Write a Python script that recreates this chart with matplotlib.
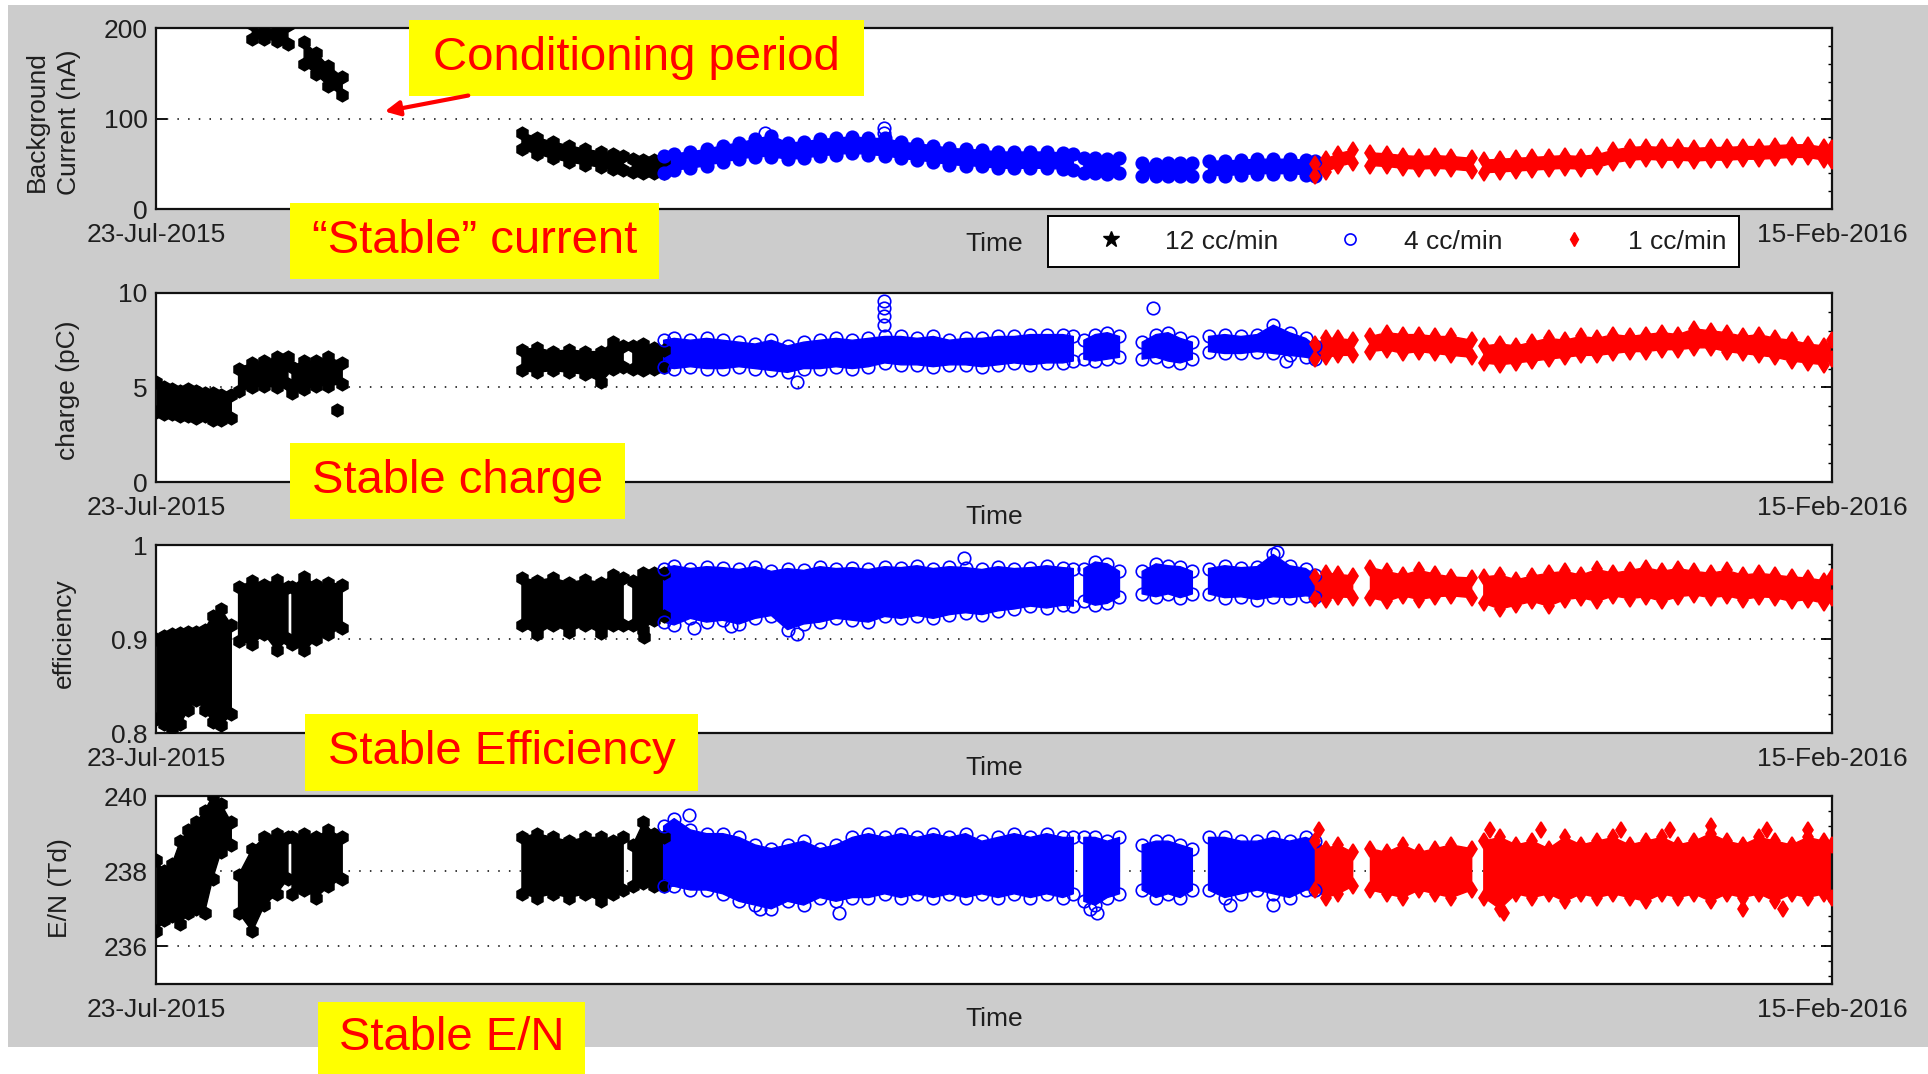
import matplotlib
matplotlib.use('Agg')
import matplotlib.pyplot as plt
import numpy as np
from matplotlib.lines import Line2D
from matplotlib.patches import Rectangle, FancyArrowPatch
from matplotlib.ticker import AutoMinorLocator

plt.rcParams['font.family'] = ['Liberation Sans', 'DejaVu Sans']
plt.rcParams['font.size'] = 19

nan = np.nan

# days since 23-Jul-2015 for each flow rate (NaN = no data between runs)
day_12 = [0, 1, 2, 3, 4, 5, 6, 7, 8, 9.3, nan,
          10.2, 11.9, 13.4, 14.9, 16.3, nan,
          16.8, 18.3, 19.8, 21.3, 23.0, nan,
          45.2, 47, 49, 51, 53, 55, 56.5, 57.7, nan,
          58.9, 60.2, 61.5, 62.8]
day_4 = [62.7, 64, 66, 68, 70, 72, 74, 76, 78, 80, 82, 84, 86, 88, 90, 92, 94,
         96, 98, 100, 102, 104, 106, 108, 110, 112, 113.3, nan,
         114.6, 116, 117.5, 119, nan,
         121.8, 123.5, 125, 126.5, 128, nan,
         130, 132, 134, 136, 138, 140, 142, 143.2]
day_1 = [143.2, 144.5, 146, 147.8, nan,
         150, 152, 154, 156, 158, 160, 162.5, nan,
         164, 166, 168, 170, 172, 174, 176, 178, 180, 182, 184, 186, 188, 190,
         192, 194, 196, 198, 200, 202, 204, 206, 207]

# background current (nA), lower / upper edge of the point cloud
cur_12_lo = [nan, nan, nan, nan, nan, nan, nan, nan, nan, nan, nan,
             nan, 188, 188, 186, 182, nan,
             nan, 160, 149, 136, 126, nan,
             66, 61, 56, 52, 49, 46, 44, 43, nan,
             41, 40, 40, 40]
cur_12_hi = [nan, nan, nan, nan, nan, nan, nan, nan, nan, nan, nan,
             nan, 205, 205, 204, 203, nan,
             nan, 185, 172, 158, 146, nan,
             84, 79, 74, 70, 66, 63, 61, 59, nan,
             55, 54, 54, 54]
cur_4_lo = [40, 43, 45, 48, 52, 55, 58, 58, 55, 56, 59, 60, 62, 60, 59, 56, 54,
            52, 49, 48, 47, 45, 45, 45, 45, 44, 43, nan,
            40, 40, 39, 40, nan,
            37, 36, 37, 37, 37, nan,
            37, 37, 38, 39, 39, 39, 38, 37]
cur_4_hi = [59, 61, 63, 66, 70, 73, 77, 81, 73, 74, 77, 78, 80, 78, 78, 74, 72,
            70, 67, 66, 65, 63, 63, 63, 63, 62, 61, nan,
            56, 56, 55, 56, nan,
            51, 50, 51, 51, 51, nan,
            53, 53, 54, 55, 55, 55, 54, 53]
cur_1_lo = [36, 41, 47, 51, nan,
            48, 47, 45, 44, 45, 44, 42, nan,
            40, 41, 42, 43, 44, 45, 44, 46, 51, 54, 55, 54, 54, 53, 54, 54, 55,
            55, 56, 57, 57, 54, 53]
cur_1_hi = [50, 55, 61, 65, nan,
            62, 61, 59, 58, 59, 58, 56, nan,
            54, 55, 56, 57, 58, 59, 58, 60, 65, 68, 69, 68, 68, 67, 68, 68, 69,
            69, 70, 71, 71, 68, 67]

# charge (pC)
chg_12_lo = [3.7, 3.6, 3.6, 3.5, 3.5, 3.4, 3.5, 3.3, 3.3, 3.4, nan,
             4.8, 5.0, 5.1, 5.0, 5.2, nan,
             4.7, 4.9, 5.1, 5.1, 5.2, nan,
             5.9, 5.8, 5.9, 5.8, 5.7, 5.3, 6.0, 6.1, nan,
             6.0, 5.9, 6.0, 6.1]
chg_12_hi = [5.3, 5.0, 4.9, 4.8, 4.9, 4.8, 4.7, 4.7, 4.6, 4.6, nan,
             6.0, 6.3, 6.4, 6.6, 6.6, nan,
             6.1, 6.4, 6.4, 6.6, 6.3, nan,
             7.0, 7.1, 6.9, 7.0, 6.9, 6.9, 7.4, 7.2, nan,
             7.2, 7.3, 7.1, 7.0]
chg_4_lo = [6.1, 6.0, 6.1, 6.0, 6.0, 6.1, 6.0, 5.9, 5.8, 6.0, 6.0, 6.1, 6.0,
            6.1, 6.3, 6.2, 6.2, 6.1, 6.2, 6.2, 6.1, 6.2, 6.3, 6.2, 6.3, 6.3, 6.4, nan,
            6.5, 6.4, 6.5, 6.6, nan,
            6.5, 6.6, 6.4, 6.3, 6.5, nan,
            6.9, 6.8, 6.8, 6.9, 6.8, 6.7, 6.6, 6.5]
chg_4_hi = [7.5, 7.6, 7.5, 7.6, 7.5, 7.4, 7.3, 7.5, 7.2, 7.4, 7.5, 7.6, 7.5,
            7.6, 7.7, 7.7, 7.6, 7.7, 7.5, 7.6, 7.6, 7.7, 7.7, 7.8, 7.8, 7.8, 7.7, nan,
            7.5, 7.8, 7.9, 7.7, nan,
            7.4, 7.8, 7.9, 7.6, 7.4, nan,
            7.7, 7.8, 7.7, 7.8, 8.3, 7.9, 7.6, 7.2]
chg_1_lo = [6.5, 6.6, 6.7, 6.7, nan,
            6.9, 7.0, 6.8, 6.9, 6.8, 6.7, 6.6, nan,
            6.3, 6.2, 6.3, 6.4, 6.5, 6.6, 6.7, 6.7, 6.8, 6.9, 6.9, 7.0, 7.0, 7.1,
            7.1, 6.9, 6.8, 6.7, 6.6, 6.4, 6.3, 6.2, 6.5]
chg_1_hi = [7.3, 7.6, 7.6, 7.5, nan,
            7.7, 7.9, 7.8, 7.8, 7.7, 7.7, 7.5, nan,
            7.2, 7.3, 7.2, 7.4, 7.6, 7.5, 7.7, 7.6, 7.8, 7.7, 7.8, 7.9, 7.8, 8.1,
            8.0, 7.9, 7.7, 7.8, 7.6, 7.5, 7.3, 7.2, 7.5]

# efficiency
eff_12_lo = [0.815, 0.81, 0.805, 0.81, 0.825, 0.835, 0.825, 0.812, 0.808, 0.82, nan,
             0.898, 0.895, 0.905, 0.888, 0.9, nan,
             0.895, 0.888, 0.9, 0.905, 0.912, nan,
             0.915, 0.905, 0.915, 0.908, 0.915, 0.906, 0.915, 0.915, nan,
             0.915, 0.91, 0.92, 0.925]
eff_12_hi = [0.9, 0.903, 0.905, 0.906, 0.908, 0.908, 0.91, 0.925, 0.932, 0.915, nan,
             0.955, 0.962, 0.958, 0.963, 0.955, nan,
             0.955, 0.966, 0.957, 0.96, 0.958, nan,
             0.965, 0.962, 0.965, 0.96, 0.963, 0.96, 0.968, 0.965, nan,
             0.962, 0.97, 0.97, 0.97]
eff_4_lo = [0.918, 0.915, 0.922, 0.918, 0.92, 0.916, 0.922, 0.925, 0.91, 0.916,
            0.918, 0.922, 0.92, 0.918, 0.924, 0.922, 0.925, 0.922, 0.926, 0.928,
            0.926, 0.93, 0.932, 0.935, 0.933, 0.936, 0.935, nan,
            0.94, 0.936, 0.938, 0.945, nan,
            0.948, 0.945, 0.948, 0.944, 0.948, nan,
            0.948, 0.944, 0.945, 0.942, 0.945, 0.944, 0.946, 0.945]
eff_4_hi = [0.975, 0.978, 0.975, 0.977, 0.976, 0.974, 0.977, 0.972, 0.975, 0.973,
            0.977, 0.975, 0.976, 0.974, 0.977, 0.976, 0.978, 0.975, 0.977, 0.976,
            0.974, 0.977, 0.975, 0.976, 0.978, 0.976, 0.975, nan,
            0.975, 0.982, 0.98, 0.972, nan,
            0.972, 0.98, 0.978, 0.977, 0.972, nan,
            0.975, 0.978, 0.976, 0.977, 0.99, 0.978, 0.975, 0.968]
eff_1_lo = [0.943, 0.942, 0.945, 0.944, nan,
            0.944, 0.94, 0.946, 0.942, 0.945, 0.946, 0.944, nan,
            0.938, 0.932, 0.936, 0.94, 0.935, 0.942, 0.944, 0.94, 0.946, 0.943,
            0.945, 0.94, 0.945, 0.947, 0.944, 0.946, 0.942, 0.945, 0.944, 0.94,
            0.942, 0.938, 0.944]
eff_1_hi = [0.966, 0.97, 0.969, 0.967, nan,
            0.976, 0.972, 0.968, 0.973, 0.969, 0.966, 0.965, nan,
            0.966, 0.968, 0.963, 0.967, 0.97, 0.972, 0.968, 0.974, 0.97, 0.973,
            0.976, 0.972, 0.975, 0.972, 0.97, 0.973, 0.968, 0.97, 0.968, 0.966,
            0.965, 0.962, 0.966]

# reduced field E/N (Td)
en_12_lo = [236.4, 236.7, 236.8, 236.6, 236.9, 237.0, 236.9, 237.8, 238.5, 238.7, nan,
            236.9, 236.4, 237.1, 237.4, 237.8, nan,
            237.4, 237.5, 237.3, 237.6, 237.8, nan,
            237.4, 237.3, 237.4, 237.3, 237.4, 237.2, 237.4, 237.5, nan,
            237.6, 237.7, 237.6, 237.6]
en_12_hi = [238.3, 238.0, 238.2, 238.8, 239.1, 239.3, 239.6, 240.0, 239.8, 239.3, nan,
            237.9, 238.6, 238.9, 239.0, 238.9, nan,
            238.9, 239.0, 238.9, 239.1, 238.9, nan,
            238.9, 239.0, 238.9, 238.8, 238.9, 238.9, 238.8, 238.9, nan,
            238.7, 239.3, 239.0, 238.9]
en_4_lo = [237.6, 237.6, 237.5, 237.5, 237.4, 237.2, 237.1, 237.0, 237.2, 237.1,
           237.3, 237.2, 237.3, 237.3, 237.4, 237.3, 237.4, 237.3, 237.4, 237.3,
           237.4, 237.3, 237.4, 237.3, 237.4, 237.3, 237.4, nan,
           237.2, 237.1, 237.3, 237.4, nan,
           237.5, 237.3, 237.4, 237.3, 237.5, nan,
           237.5, 237.3, 237.4, 237.5, 237.4, 237.3, 237.5, 237.5]
en_4_hi = [239.2, 239.4, 239.1, 239.0, 239.0, 238.9, 238.7, 238.6, 238.7, 238.8,
           238.6, 238.7, 238.9, 239.0, 238.9, 239.0, 238.9, 239.0, 238.9, 239.0,
           238.8, 238.9, 239.0, 238.9, 239.0, 238.9, 238.9, nan,
           238.9, 238.9, 238.8, 238.9, nan,
           238.7, 238.8, 238.8, 238.7, 238.6, nan,
           238.9, 238.9, 238.8, 238.8, 238.9, 238.8, 238.9, 238.8]
en_1_lo = [237.5, 237.3, 237.4, 237.6, nan,
           237.5, 237.4, 237.3, 237.5, 237.4, 237.3, 237.5, nan,
           237.3, 237.0, 237.4, 237.3, 237.4, 237.2, 237.4, 237.3, 237.4, 237.3,
           237.2, 237.4, 237.3, 237.4, 237.2, 237.4, 237.3, 237.4, 237.2, 237.4,
           237.3, 237.4, 237.3]
en_1_hi = [238.8, 238.6, 238.7, 238.5, nan,
           238.6, 238.5, 238.7, 238.5, 238.6, 238.7, 238.6, nan,
           238.8, 238.9, 238.7, 238.8, 238.6, 238.9, 238.7, 238.8, 238.9, 238.7,
           238.8, 238.9, 238.7, 238.8, 239.0, 238.8, 238.7, 238.9, 238.8, 238.7,
           238.9, 238.8, 238.7]

# isolated points away from the bands
cur_4_out_day = [75.2, 89.9, 89.9]
cur_4_out_val = [84, 84, 90]
chg_12_out_day = [22.3]
chg_12_out_val = [3.8]
chg_4_out_day = [79.2, 89.9, 89.9, 89.9, 89.9, 123.2, 139.6]
chg_4_out_val = [5.3, 9.6, 9.2, 8.8, 8.3, 9.2, 6.4]
eff_12_out_day = [60.3]
eff_12_out_val = [0.902]
eff_4_out_day = [66.5, 71, 79.2, 99.8, 138.4]
eff_4_out_val = [0.912, 0.914, 0.905, 0.986, 0.993]
en_4_out_day = [65.8, 74.6, 84.3, 115.4, 116.2, 132.6, 138.0]
en_4_out_val = [239.5, 237.0, 236.9, 237.0, 236.9, 237.1, 237.1]
en_1_out_day = [143.6, 164.8, 171, 181, 187, 192, 199, 204, 166.5, 196, 201]
en_1_out_val = [239.1, 239.1, 239.1, 239.1, 239.1, 239.2, 239.1, 239.1, 236.9, 237.0, 237.0]

date_labels = ['23-Jul-2015', '15-Feb-2016']
n_days = 207

txt = '#1e1e1e'
style_12 = dict(color='black', marker='h', ms=9, mfc='black')
style_4 = dict(color='blue', marker='o', ms=9, mfc='none')
style_4_dense = dict(color='blue', marker='o', ms=9, mfc='blue')
style_1 = dict(color='red', marker='d', ms=8, mfc='red')


def band(ax, days, lo, hi, st):
    ax.fill_between(days, lo, hi, color=st['color'], lw=1.0, zorder=2)
    for edge in (lo, hi):
        ax.plot(days, edge, ls='none', marker=st['marker'], ms=st['ms'],
                color=st['color'], mfc=st['mfc'], mew=1.2, zorder=3)


def dots(ax, days, vals, st):
    ax.plot(days, vals, ls='none', marker=st['marker'], ms=st['ms'],
            color=st['color'], mfc=st['mfc'], mew=1.2, zorder=3)


def setup(ax, ylim, ticks, ticklabels):
    ax.set_xlim(0, n_days)
    ax.set_ylim(*ylim)
    ax.set_yticks(ticks)
    ax.set_yticklabels(ticklabels, color=txt)
    ax.yaxis.set_minor_locator(AutoMinorLocator(5))
    ax.set_xticks([0, n_days])
    ax.set_xticklabels(date_labels, color=txt)
    ax.tick_params(axis='x', length=0, pad=10)
    ax.tick_params(axis='y', which='major', direction='in', length=8, width=1.3,
                   left=True, right=True, pad=6)
    ax.tick_params(axis='y', which='minor', direction='in', length=3, width=1,
                   left=False, right=True)
    ax.yaxis.grid(True, which='major', color='black', lw=1.1, ls=(0, (1, 6)))
    ax.set_axisbelow(True)
    for sp in ax.spines.values():
        sp.set_linewidth(1.6)
        sp.set_color('#111111')
    ax.annotate('Time', xy=(0.5, 0), xycoords='axes fraction', xytext=(0, -25),
                textcoords='offset points', ha='center', va='center', color=txt)


fig = plt.figure(figsize=(19.28, 10.74), dpi=100, facecolor='white')
fig.add_artist(Rectangle((8 / 1928, 1 - 1047 / 1074), 1920 / 1928, 1042 / 1074,
                         transform=fig.transFigure, facecolor='#cccccc',
                         edgecolor='none', zorder=-5))

left, width = 0.0809, 0.8693
ax1 = fig.add_axes([left, 0.8054, width, 0.1685])
ax2 = fig.add_axes([left, 0.5512, width, 0.1760])
ax3 = fig.add_axes([left, 0.3175, width, 0.1750])
ax4 = fig.add_axes([left, 0.0838, width, 0.1750])

# background current
band(ax1, day_12, cur_12_lo, cur_12_hi, style_12)
band(ax1, day_4, cur_4_lo, cur_4_hi, style_4_dense)
dots(ax1, cur_4_out_day, cur_4_out_val, style_4)
band(ax1, day_1, cur_1_lo, cur_1_hi, style_1)
setup(ax1, (0, 200), [0, 100, 200], ['0', '100', '200'])

# charge
band(ax2, day_12, chg_12_lo, chg_12_hi, style_12)
dots(ax2, chg_12_out_day, chg_12_out_val, style_12)
band(ax2, day_4, chg_4_lo, chg_4_hi, style_4)
dots(ax2, chg_4_out_day, chg_4_out_val, style_4)
band(ax2, day_1, chg_1_lo, chg_1_hi, style_1)
setup(ax2, (0, 10), [0, 5, 10], ['0', '5', '10'])

# efficiency
band(ax3, day_12, eff_12_lo, eff_12_hi, style_12)
dots(ax3, eff_12_out_day, eff_12_out_val, style_12)
band(ax3, day_4, eff_4_lo, eff_4_hi, style_4)
dots(ax3, eff_4_out_day, eff_4_out_val, style_4)
band(ax3, day_1, eff_1_lo, eff_1_hi, style_1)
setup(ax3, (0.8, 1.0), [0.8, 0.9, 1.0], ['0.8', '0.9', '1'])

# E/N
band(ax4, day_12, en_12_lo, en_12_hi, style_12)
band(ax4, day_4, en_4_lo, en_4_hi, style_4)
dots(ax4, en_4_out_day, en_4_out_val, style_4)
band(ax4, day_1, en_1_lo, en_1_hi, style_1)
dots(ax4, en_1_out_day, en_1_out_val, style_1)
setup(ax4, (235, 240), [236, 238, 240], ['236', '238', '240'])

# y labels
fig.text(0.0275, 0.8864, 'Background\nCurrent (nA)', rotation=90, ha='center',
         va='center', color=txt, linespacing=1.4)
fig.text(0.0353, 0.6369, 'charge (pC)', rotation=90, ha='center', va='center', color=txt)
fig.text(0.0332, 0.4106, 'efficiency', rotation=90, ha='center', va='center', color=txt)
fig.text(0.0311, 0.1732, 'E/N (Td)', rotation=90, ha='center', va='center', color=txt)

# legend under the top panel
handles = [Line2D([], [], ls='none', marker='*', ms=12, color='black'),
           Line2D([], [], ls='none', marker='o', ms=8, color='blue', mfc='none', mew=1.2),
           Line2D([], [], ls='none', marker='d', ms=7, color='red')]
leg = fig.legend(handles, ['12 cc/min', '4 cc/min', '1 cc/min'], ncol=3,
                 loc='center', bbox_to_anchor=(0.7228, 0.7751), frameon=True,
                 fancybox=False, framealpha=1, edgecolor='black', borderpad=0.5,
                 handlelength=3.8, handletextpad=0.15, columnspacing=0.8,
                 labelcolor=txt)
leg.get_frame().set_linewidth(1.4)

# yellow call-out boxes
boxes = [('Conditioning period', 409, 20, 864, 96),
         ('\u201cStable\u201d current', 290, 203, 659, 279),
         ('Stable charge', 290, 443, 625, 519),
         ('Stable Efficiency', 305, 714, 698, 791),
         ('Stable E/N', 318, 1002, 585, 1074)]
W, H = 1928, 1074
for label, x0, y0, x1, y1 in boxes:
    fig.add_artist(Rectangle((x0 / W, 1 - y1 / H), (x1 - x0) / W, (y1 - y0) / H,
                             transform=fig.transFigure, facecolor='#ffff00',
                             edgecolor='none', zorder=10))
    fig.text((x0 + x1) / 2 / W, 1 - (y0 + y1) / 2 / H, label, fontsize=34,
             color='red', ha='center', va='center', zorder=11)

fig.add_artist(FancyArrowPatch((471 / W, 1 - 95 / H), (382 / W, 1 - 112 / H),
                               transform=fig.transFigure, arrowstyle='-|>',
                               mutation_scale=22, color='red', lw=3, zorder=11))

fig.savefig('out.png', dpi=100, facecolor='white')
